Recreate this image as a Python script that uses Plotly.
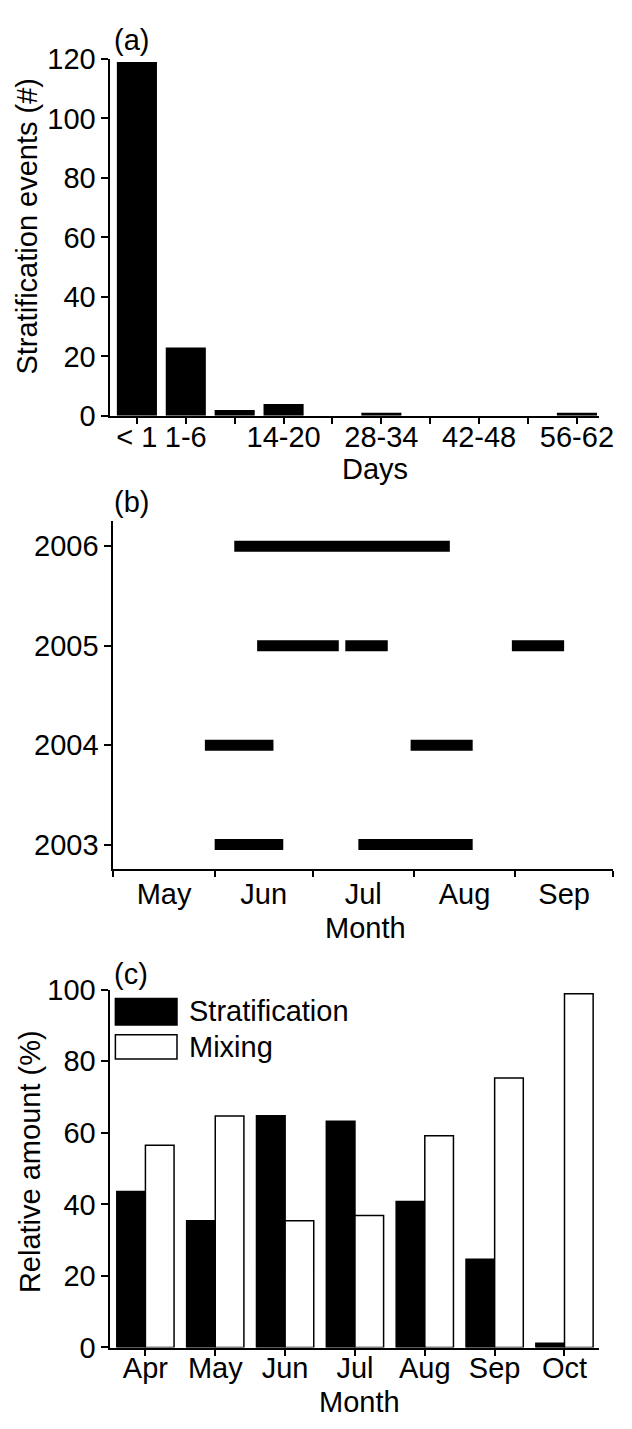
import plotly.graph_objects as go

W, H = 632, 1429
FONT = "Liberation Sans, Arial, Helvetica, sans-serif"
FS = 29

# (a) number of stratification events per duration class
day_bins = ["< 1", "1-6", "7-13", "14-20", "21-27", "28-34", "35-41", "42-48", "49-55", "56-62"]
day_labels = ["< 1", "1-6", "", "14-20", "", "28-34", "", "42-48", "", "56-62"]
event_counts = [119, 23, 2, 4, 0, 1, 0, 0, 0, 1]

# (b) stratified periods in each year (month-day)
period_year = [2006, 2005, 2005, 2005, 2004, 2004, 2003, 2003]
period_start = ["06-07", "06-14", "07-11", "08-31", "05-29", "07-31", "06-01", "07-15"]
period_end = ["08-12", "07-09", "07-24", "09-16", "06-19", "08-19", "06-22", "08-19"]
year_ticks = [2003, 2004, 2005, 2006]
SEASON_YEAR = 2001  # common calendar year for the seasonal axis

# (c) monthly share of stratification vs mixing
months = ["Apr", "May", "Jun", "Jul", "Aug", "Sep", "Oct"]
stratification_pct = [43.6, 35.4, 64.8, 63.2, 40.8, 24.7, 1.2]
mixing_pct = [56.5, 64.7, 35.4, 36.9, 59.2, 75.3, 98.9]


def fx(px):
    return px / W


def fy(py):
    return 1 - py / H


fig = go.Figure()

# panel (a)
fig.add_trace(go.Bar(x=day_bins, y=event_counts, marker=dict(color="black", line=dict(width=0)),
                     xaxis="x", yaxis="y", showlegend=False))

# panel (b)
seg_x, seg_y = [], []
for yr, s, e in zip(period_year, period_start, period_end):
    seg_x += [f"{SEASON_YEAR}-{s}", f"{SEASON_YEAR}-{e}", None]
    seg_y += [yr, yr, None]
fig.add_trace(go.Scatter(x=seg_x, y=seg_y, mode="lines", line=dict(color="black", width=11),
                         xaxis="x2", yaxis="y2", showlegend=False))

# panel (c)
fig.add_trace(go.Bar(x=months, y=stratification_pct, name="Stratification",
                     marker=dict(color="black", line=dict(color="black", width=1.5)),
                     xaxis="x3", yaxis="y3", showlegend=False))
fig.add_trace(go.Bar(x=months, y=mixing_pct, name="Mixing",
                     marker=dict(color="white", line=dict(color="black", width=1.5)),
                     xaxis="x3", yaxis="y3", showlegend=False))

axis_common = dict(showline=True, linecolor="black", linewidth=2, ticks="outside", tickwidth=2,
                   tickcolor="black", showgrid=False, zeroline=False,
                   tickfont=dict(family=FONT, size=FS, color="black"))
x_common = dict(axis_common, tickangle=0, ticklen=6)

fig.update_layout(
    width=W, height=H, margin=dict(l=0, r=0, t=0, b=0),
    paper_bgcolor="white", plot_bgcolor="white",
    barmode="group", bargap=0.18, bargroupgap=0,
    font=dict(family=FONT, size=FS, color="black"),
    xaxis=dict(x_common, domain=[fx(113), fx(613)], anchor="y", type="category", ticklabelstandoff=-12,
               range=[-0.54, 9.46], tickmode="array", tickvals=day_bins, ticktext=day_labels),
    yaxis=dict(axis_common, domain=[fy(409), fy(44)], anchor="x", range=[0, 120], dtick=20, ticklen=7),
    xaxis2=dict(x_common, domain=[fx(116), fx(627)], anchor="y2", type="date", ticklabelstandoff=-8,
                range=[f"{SEASON_YEAR}-05-01", f"{SEASON_YEAR}-10-01"], tick0=f"{SEASON_YEAR}-05-01",
                dtick="M1", tickformat="%b", ticklabelmode="period"),
    yaxis2=dict(axis_common, domain=[fy(873), fy(517)], anchor="x2", range=[2002.75, 2006.25],
                tickmode="array", tickvals=year_ticks, ticklen=7),
    xaxis3=dict(x_common, domain=[fx(113), fx(613)], anchor="y3", type="category", ticklabelstandoff=-12,
                range=[-0.5, 6.5]),
    yaxis3=dict(axis_common, domain=[fy(1362), fy(996)], anchor="x3", range=[0, 100], dtick=20, ticklen=7),
)

texts = [
    ("(a)", 115, 25, "left", 0),
    ("(b)", 115, 497, "left", 0),
    ("(c)", 115, 980, "left", 0),
    ("Stratification events (#)", 28, 215, "center", -90),
    ("Days", 383, 463, "center", 0),
    ("Month", 374, 933, "center", 0),
    ("Relative amount (%)", 30, 1172, "center", -90),
    ("Month", 368, 1418, "center", 0),
    ("Stratification", 191, 1018, "left", 0),
    ("Mixing", 191, 1055, "left", 0),
]
for txt, x, y, xa, ang in texts:
    fig.add_annotation(text=txt, x=fx(x), y=fy(y), xref="paper", yref="paper", xanchor=xa,
                       yanchor="middle", showarrow=False, textangle=ang,
                       font=dict(family=FONT, size=FS, color="black"))

# legend swatches for panel (c)
fig.add_shape(type="rect", xref="paper", yref="paper", x0=fx(118), x1=fx(181), y0=fy(1032), y1=fy(1005),
              fillcolor="black", line=dict(color="black", width=1.5))
fig.add_shape(type="rect", xref="paper", yref="paper", x0=fx(118), x1=fx(181), y0=fy(1067), y1=fy(1042),
              fillcolor="white", line=dict(color="black", width=1.5))

fig.write_html("out.html")
